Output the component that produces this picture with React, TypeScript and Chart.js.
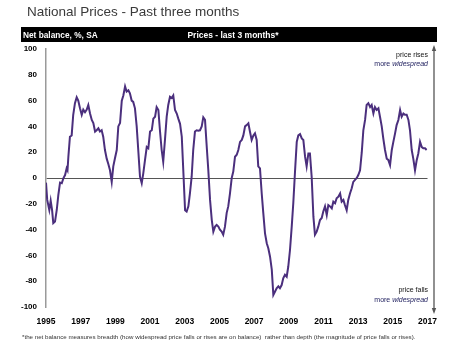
import React, { useEffect, useRef } from "react";
import { Chart, registerables } from "chart.js";

Chart.register(...registerables);

const years = [
  1995.0, 1995.07, 1995.19, 1995.27, 1995.35, 1995.42, 1995.52, 1995.62, 1995.71, 1995.81, 1995.91,
  1996.0, 1996.1, 1996.19, 1996.24, 1996.29, 1996.38, 1996.48, 1996.57, 1996.67, 1996.77, 1996.86, 1996.96,
  1997.06, 1997.15, 1997.25, 1997.35, 1997.44, 1997.54, 1997.64, 1997.73, 1997.83, 1997.92,
  1998.02, 1998.11, 1998.21, 1998.3, 1998.4, 1998.5, 1998.59, 1998.69, 1998.79, 1998.88, 1998.98,
  1999.08, 1999.17, 1999.27, 1999.37, 1999.46, 1999.56, 1999.65, 1999.75, 1999.84, 1999.94,
  2000.03, 2000.13, 2000.23, 2000.32, 2000.42, 2000.52, 2000.61, 2000.71, 2000.81, 2000.9,
  2001.0, 2001.1, 2001.19, 2001.29, 2001.38, 2001.48, 2001.57, 2001.67, 2001.76, 2001.86, 2001.96,
  2002.05, 2002.15, 2002.25, 2002.34, 2002.44, 2002.54, 2002.63, 2002.73, 2002.83, 2002.92,
  2003.02, 2003.11, 2003.21, 2003.3, 2003.4, 2003.49, 2003.59, 2003.69, 2003.78, 2003.88, 2003.98,
  2004.07, 2004.17, 2004.27, 2004.36, 2004.46, 2004.56, 2004.65, 2004.75, 2004.84, 2004.94,
  2005.03, 2005.13, 2005.22, 2005.32, 2005.42, 2005.51, 2005.61, 2005.71, 2005.8, 2005.9,
  2006.0, 2006.09, 2006.19, 2006.29, 2006.38, 2006.48, 2006.57, 2006.67, 2006.76, 2006.86, 2006.96,
  2007.05, 2007.15, 2007.24, 2007.34, 2007.44, 2007.53, 2007.63, 2007.73, 2007.82, 2007.92,
  2008.02, 2008.11, 2008.21, 2008.3, 2008.4, 2008.49, 2008.59, 2008.68, 2008.78, 2008.88, 2008.97,
  2009.07, 2009.17, 2009.26, 2009.36, 2009.46, 2009.55, 2009.65, 2009.75, 2009.84, 2009.94,
  2010.03, 2010.13, 2010.22, 2010.32, 2010.42, 2010.51, 2010.61, 2010.7, 2010.8, 2010.9, 2010.99,
  2011.09, 2011.19, 2011.28, 2011.38, 2011.48, 2011.57, 2011.67, 2011.76, 2011.86, 2011.96,
  2012.05, 2012.15, 2012.24, 2012.34, 2012.43, 2012.53, 2012.63, 2012.72, 2012.82, 2012.92,
  2013.01, 2013.11, 2013.21, 2013.3, 2013.4, 2013.49, 2013.59, 2013.69, 2013.78, 2013.88, 2013.97,
  2014.07, 2014.17, 2014.26, 2014.36, 2014.45, 2014.55, 2014.65, 2014.74, 2014.84, 2014.94,
  2015.03, 2015.13, 2015.22, 2015.32, 2015.42, 2015.51, 2015.61, 2015.7, 2015.8, 2015.9, 2015.99,
  2016.09, 2016.18, 2016.28, 2016.38, 2016.47, 2016.57, 2016.67, 2016.76, 2016.86, 2016.95,
];

const balance = [
  -3.6, -17, -24.8, -17.6, -24.8, -35, -33.8, -24.8, -13.2, -3.6, -4.1,
  -0.3, 2.3, 7.5, 6, 16.5, 32, 33, 49, 58, 62.5, 60, 54,
  49, 53, 51, 53, 56.6, 50, 45, 42.6, 36, 37,
  38.5, 36, 37, 32, 21.7, 15, 11, 6, -3, 9, 15.5,
  21.7, 40, 42.6, 60, 64, 71, 67, 68, 65.6, 60,
  59, 54, 40, 21.7, 1, -4, 3.6, 14, 24, 23,
  36, 37, 46, 47.5, 55, 52.7, 37, 21.7, 12.6, 29.5, 47.5,
  56.6, 63, 62, 64, 52.7, 50, 46, 42, 32, 5,
  -25, -26, -22, -12, 1, 21.7, 36, 37, 36.7, 37, 40,
  47, 45, 24, 6, -17, -32.6, -41.6, -37.7, -36.4, -37.7,
  -40, -41.6, -44, -37.7, -27, -22, -12, 0, 5, 16.5,
  18, 21.7, 28, 29.5, 33, 40, 41, 42.4, 36, 29.5, 33,
  34.6, 29.5, 9, 7.5, -12, -27, -43, -50.6, -54.5, -61,
  -71, -90.7, -88, -85.5, -84, -85.5, -83, -77.8, -75, -76.5, -68.8,
  -55.8, -37.7, -19.6, 5, 28, 33, 34, 30.7, 29.5, 16.5,
  9, 19, 19, 1, -30, -44, -41.6, -37.7, -32.6, -31, -26,
  -22, -28.7, -21, -22, -23.5, -18.4, -19.6, -15.7, -14.5, -12,
  -18.4, -17, -21, -25, -17, -12, -8, -3, -1.5, 0,
  2.3, 6, 20, 37, 45, 56.6, 58, 55, 56.6, 50, 55,
  52.7, 54, 47.5, 40, 30.7, 21.7, 15, 14, 10, 21.7,
  28, 34.6, 41, 45, 52.7, 47.5, 50, 49, 49, 45, 37,
  21.7, 15, 6, 14, 19, 28, 24, 23, 23, 21.7,
];

const xTickYears = [1995, 1997, 1999, 2001, 2003, 2005, 2007, 2009, 2011, 2013, 2015, 2017];

const titleText = "National Prices - Past three months";
const headerLeft = "Net balance, %, SA";
const headerCenter = "Prices - last 3 months*";
const footnote =
  "*the net balance measures breadth (how widespread price falls or rises are on balance)  rather than depth (the magnitude of price falls or rises).";

const FONT = "'Liberation Sans', Arial, Helvetica, sans-serif";

const decorPlugin = {
  id: "decor",
  afterDraw(chart: any) {
    const ctx = chart.ctx as CanvasRenderingContext2D;
    ctx.save();
    // title
    ctx.fillStyle = "#3a3a3a";
    ctx.font = `13.5px ${FONT}`;
    ctx.textAlign = "left";
    ctx.textBaseline = "alphabetic";
    ctx.fillText(titleText, 27, 16);

    // header bar
    ctx.fillStyle = "#000";
    ctx.fillRect(21, 27, 416, 15);
    ctx.fillStyle = "#fff";
    ctx.font = `bold 8.3px ${FONT}`;
    ctx.fillText(headerLeft, 23, 38);
    ctx.textAlign = "center";
    ctx.font = `bold 8.5px ${FONT}`;
    ctx.fillText(headerCenter, 233, 38);

    // right arrow axis
    const ax = 434;
    ctx.strokeStyle = "#555";
    ctx.fillStyle = "#555";
    ctx.lineWidth = 1.3;
    ctx.beginPath();
    ctx.moveTo(ax, 49);
    ctx.lineTo(ax, 309);
    ctx.stroke();
    ctx.beginPath();
    ctx.moveTo(ax, 45);
    ctx.lineTo(ax - 2.2, 51);
    ctx.lineTo(ax + 2.2, 51);
    ctx.closePath();
    ctx.fill();
    ctx.beginPath();
    ctx.moveTo(ax, 314);
    ctx.lineTo(ax - 2.2, 308);
    ctx.lineTo(ax + 2.2, 308);
    ctx.closePath();
    ctx.fill();

    // annotations
    const right = 428;
    const drawWide = (y: number) => {
      ctx.textAlign = "right";
      ctx.fillStyle = "#1c1c5c";
      ctx.font = `italic 7px ${FONT}`;
      const w = ctx.measureText("widespread").width;
      ctx.fillText("widespread", right, y);
      ctx.font = `7px ${FONT}`;
      ctx.fillText("more ", right - w, y);
    };
    ctx.textAlign = "right";
    ctx.fillStyle = "#111";
    ctx.font = `7px ${FONT}`;
    ctx.fillText("price rises", right, 57);
    drawWide(65.5);
    ctx.fillStyle = "#111";
    ctx.font = `7px ${FONT}`;
    ctx.textAlign = "right";
    ctx.fillText("price falls", right, 291.5);
    drawWide(301.5);

    // footnote
    ctx.textAlign = "left";
    ctx.fillStyle = "#333";
    ctx.font = `6.2px ${FONT}`;
    ctx.fillText(footnote, 22, 339);
    ctx.restore();
  },
};

export default function App() {
  const ref = useRef<HTMLCanvasElement | null>(null);

  useEffect(() => {
    document.body.style.margin = "0";
    const canvas = ref.current;
    if (!canvas) return;
    const points = years.map((x, i) => ({ x, y: balance[i] }));
    const chart = new Chart(canvas, {
      type: "line",
      data: {
        datasets: [
          {
            data: points,
            borderColor: "#4b2f7d",
            borderWidth: 2,
            pointRadius: 0,
            tension: 0,
            fill: false,
          },
        ],
      },
      options: {
        animation: false,
        responsive: false,
        devicePixelRatio: 1,
        parsing: false as any,
        layout: { padding: { top: 49, right: 22.5, left: 0, bottom: 0 } },
        plugins: {
          legend: { display: false },
          tooltip: { enabled: false },
          title: { display: false },
        },
        scales: {
          x: {
            type: "linear",
            min: 1995,
            max: 2017,
            border: { display: false },
            grid: { display: false, drawTicks: false },
            afterBuildTicks: (scale: any) => {
              scale.ticks = xTickYears.map((v) => ({ value: v }));
            },
            afterFit: (scale: any) => {
              scale.height = 42;
            },
            ticks: {
              autoSkip: false,
              maxRotation: 0,
              minRotation: 0,
              padding: 10,
              color: "#000",
              font: { family: FONT, size: 8.5, weight: "bold" },
              callback: (v: any) => String(v),
            },
          },
          y: {
            min: -100,
            max: 100,
            border: { display: true, color: "#9a9a9a", width: 1.5 },
            grid: {
              drawTicks: false,
              color: (c: any) => (c.tick && c.tick.value === 0 ? "#555" : "rgba(0,0,0,0)"),
              lineWidth: 1,
            },
            afterFit: (scale: any) => {
              scale.width = 46;
            },
            ticks: {
              stepSize: 20,
              padding: 9,
              color: "#000",
              font: { family: FONT, size: 8, weight: "bold" },
            },
          },
        },
      },
      plugins: [decorPlugin],
    });
    return () => chart.destroy();
  }, []);

  return (
    <div style={{ position: "fixed", left: 0, top: 0, width: 450, height: 349, background: "#fff" }}>
      <canvas ref={ref} width={450} height={349} style={{ width: 450, height: 349 }} />
    </div>
  );
}
